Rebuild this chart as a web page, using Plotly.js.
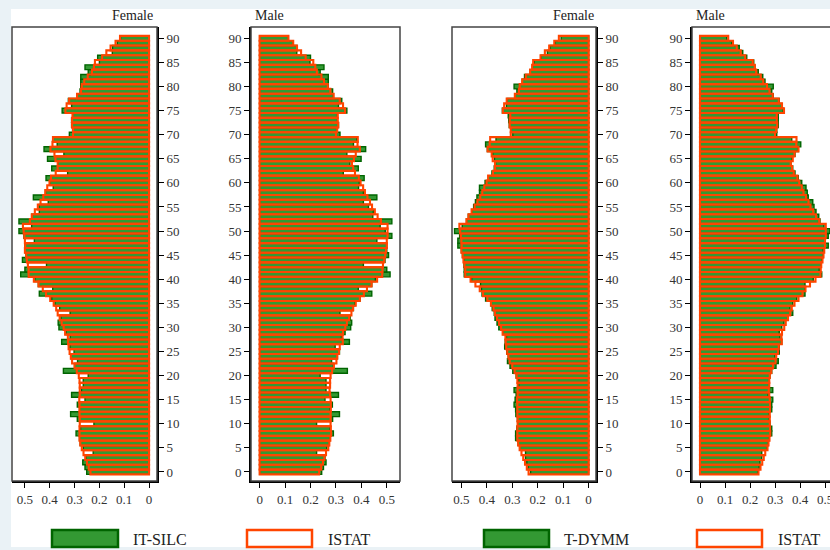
<!DOCTYPE html>
<html>
<head>
<meta charset="utf-8">
<script src="https://cdn.plot.ly/plotly-3.0.1.min.js"></script>
<style>html,body{margin:0;padding:0;background:#eaf2f6;}#chart{width:830px;height:550px;}</style>
</head>
<body>
<div id="chart"></div>
<script>
// Ages 0..90
const ages = Array.from({length: 91}, (_, i) => i);

// ISTAT shares (%), female and male, ages 0..90
const istatF = [0.236,0.243,0.250,0.257,0.264,0.271,0.277,0.280,0.280,0.280,
  0.279,0.279,0.280,0.280,0.280,0.281,0.279,0.279,0.279,0.280,
  0.283,0.291,0.300,0.310,0.315,0.320,0.324,0.326,0.327,0.338,
  0.344,0.352,0.360,0.368,0.374,0.384,0.398,0.415,0.428,0.445,
  0.464,0.485,0.485,0.488,0.492,0.495,0.500,0.499,0.500,0.502,
  0.505,0.508,0.480,0.472,0.460,0.448,0.437,0.426,0.418,0.410,
  0.401,0.395,0.376,0.368,0.368,0.377,0.381,0.397,0.389,0.387,
  0.306,0.306,0.310,0.310,0.308,0.337,0.332,0.322,0.290,0.274,
  0.271,0.261,0.247,0.230,0.222,0.218,0.189,0.172,0.155,0.135,0.117];
const istatM = [0.234,0.242,0.249,0.255,0.261,0.270,0.274,0.278,0.281,0.280,
  0.279,0.279,0.279,0.280,0.280,0.279,0.277,0.275,0.277,0.277,
  0.279,0.285,0.292,0.302,0.305,0.312,0.315,0.327,0.326,0.328,
  0.337,0.343,0.352,0.361,0.367,0.378,0.394,0.410,0.422,0.440,
  0.462,0.482,0.483,0.485,0.490,0.494,0.497,0.500,0.500,0.503,
  0.503,0.503,0.477,0.464,0.453,0.442,0.434,0.424,0.414,0.407,
  0.397,0.390,0.375,0.368,0.363,0.371,0.378,0.394,0.385,0.386,
  0.300,0.305,0.309,0.307,0.307,0.336,0.328,0.315,0.291,0.278,
  0.268,0.253,0.243,0.225,0.219,0.211,0.181,0.163,0.147,0.132,0.113];

// IT-SILC shares, female and male
const silcF = [0.251,0.258,0.267,0.254,0.225,0.265,0.277,0.280,0.294,0.276,
  0.222,0.289,0.316,0.280,0.289,0.258,0.312,0.272,0.265,0.265,
  0.245,0.345,0.300,0.288,0.315,0.302,0.319,0.352,0.318,0.334,
  0.363,0.366,0.355,0.318,0.360,0.379,0.392,0.442,0.388,0.446,
  0.460,0.517,0.500,0.413,0.510,0.496,0.500,0.500,0.462,0.504,
  0.524,0.473,0.524,0.473,0.442,0.443,0.406,0.466,0.417,0.386,
  0.400,0.415,0.328,0.392,0.366,0.409,0.343,0.423,0.370,0.386,
  0.321,0.308,0.312,0.312,0.308,0.350,0.312,0.325,0.290,0.278,
  0.275,0.275,0.275,0.245,0.258,0.200,0.207,0.148,0.147,0.128,0.115];
const silcM = [0.244,0.251,0.261,0.257,0.224,0.264,0.274,0.277,0.290,0.277,
  0.224,0.287,0.314,0.277,0.286,0.257,0.310,0.261,0.261,0.261,
  0.238,0.345,0.290,0.283,0.306,0.314,0.297,0.353,0.322,0.336,
  0.358,0.362,0.356,0.316,0.369,0.375,0.395,0.441,0.388,0.441,
  0.455,0.513,0.500,0.408,0.493,0.507,0.500,0.500,0.461,0.520,
  0.494,0.474,0.520,0.445,0.447,0.428,0.408,0.461,0.408,0.389,
  0.392,0.411,0.329,0.388,0.355,0.399,0.343,0.417,0.369,0.382,
  0.316,0.303,0.310,0.306,0.306,0.343,0.310,0.323,0.290,0.287,
  0.270,0.270,0.270,0.238,0.253,0.198,0.200,0.146,0.146,0.130,0.113];

// T-DYMM shares, female and male
const tdymmF = [0.228,0.238,0.243,0.248,0.248,0.271,0.277,0.287,0.287,0.282,
  0.279,0.280,0.286,0.287,0.293,0.289,0.285,0.293,0.275,0.275,
  0.285,0.298,0.309,0.319,0.316,0.322,0.330,0.328,0.323,0.337,
  0.353,0.360,0.368,0.371,0.379,0.384,0.405,0.419,0.421,0.425,
  0.460,0.489,0.489,0.490,0.490,0.496,0.500,0.514,0.514,0.507,
  0.527,0.497,0.480,0.473,0.459,0.452,0.445,0.439,0.429,0.429,
  0.407,0.394,0.380,0.371,0.366,0.370,0.377,0.398,0.405,0.364,
  0.298,0.305,0.312,0.314,0.316,0.339,0.323,0.320,0.289,0.282,
  0.293,0.261,0.252,0.230,0.221,0.214,0.187,0.162,0.151,0.132,0.108];
const tdymmM = [0.231,0.237,0.240,0.247,0.247,0.269,0.273,0.277,0.287,0.287,
  0.280,0.277,0.277,0.287,0.287,0.291,0.273,0.291,0.277,0.277,
  0.280,0.287,0.304,0.313,0.300,0.317,0.317,0.327,0.320,0.317,
  0.327,0.336,0.353,0.371,0.360,0.371,0.387,0.420,0.420,0.420,
  0.453,0.487,0.477,0.483,0.487,0.493,0.493,0.513,0.500,0.513,
  0.520,0.496,0.480,0.475,0.464,0.456,0.451,0.433,0.429,0.424,
  0.407,0.393,0.380,0.371,0.364,0.367,0.380,0.393,0.403,0.367,
  0.307,0.307,0.313,0.313,0.313,0.333,0.327,0.317,0.293,0.287,
  0.293,0.260,0.251,0.233,0.220,0.215,0.187,0.171,0.157,0.127,0.107];

const xTickVals = [0, 0.1, 0.2, 0.3, 0.4, 0.5];
const xTickText = ['0', '0.1', '0.2', '0.3', '0.4', '0.5'];
const yTickVals = [0,5,10,15,20,25,30,35,40,45,50,55,60,65,70,75,80,85,90];
const panelTitles = ['Female', 'Male', 'Female', 'Male'];
const legendLabels = [['IT-SILC', 'ISTAT'], ['T-DYMM', 'ISTAT']];

const W = 830, H = 550;
const px = x => x / W;
const py = y => (H - y) / H;
const SERIF = '"Liberation Serif", "Times New Roman", Times, serif';
const GREEN = '#339933', DKGREEN = '#006400', ORANGE = '#ff4500';

function green(x, xa, ya) {
  return {type: 'bar', orientation: 'h', y: ages, x: x, xaxis: xa, yaxis: ya, width: 1,
    marker: {color: GREEN, line: {color: DKGREEN, width: 1.4}}, hoverinfo: 'skip', showlegend: false};
}
function outline(x, xa, ya) {
  return {type: 'bar', orientation: 'h', y: ages, x: x, xaxis: xa, yaxis: ya, width: 1,
    marker: {color: 'rgba(255,255,255,0)', line: {color: ORANGE, width: 2.1}}, hoverinfo: 'skip', showlegend: false};
}

const data = [
  green(silcF, 'x', 'y'), outline(istatF, 'x', 'y'),
  green(silcM, 'x2', 'y2'), outline(istatM, 'x2', 'y2'),
  green(tdymmF, 'x3', 'y3'), outline(istatF, 'x3', 'y3'),
  green(tdymmM, 'x4', 'y4'), outline(istatM, 'x4', 'y4')
];

const yDom = [py(481), py(27)];
const yRange = [-1.87, 92.35];
const tickFont = {family: SERIF, size: 13, color: '#333'};

function xax(domain, range, anchor) {
  return {domain: domain, range: range, autorange: false, anchor: anchor,
    tickvals: xTickVals, ticktext: xTickText, ticks: 'outside', ticklen: 5, tickwidth: 1, tickcolor: '#000',
    showline: true, linecolor: '#000', linewidth: 2, showgrid: false, zeroline: false,
    tickfont: tickFont, fixedrange: true, ticklabeloverflow: 'allow'};
}
function yax(anchor, side) {
  return {domain: yDom, range: yRange, autorange: false, anchor: anchor, side: side,
    tickvals: yTickVals, ticks: 'outside', ticklen: 5, tickwidth: 1, tickcolor: '#000',
    showline: true, linecolor: '#000', linewidth: 2, showgrid: false, zeroline: false,
    tickfont: tickFont, fixedrange: true, ticklabeloverflow: 'allow'};
}

const panels = [
  {x0: 12, x1: 157, xa: 'x', ya: 'y'},
  {x0: 251, x1: 400, xa: 'x2', ya: 'y2'},
  {x0: 452, x1: 596, xa: 'x3', ya: 'y3'},
  {x0: 692, x1: 830, xa: 'x4', ya: 'y4'}
];

const shapes = [
  {type: 'rect', xref: 'paper', yref: 'paper', x0: px(11), x1: 1, y0: py(547), y1: py(9),
    fillcolor: '#ffffff', line: {width: 0}, layer: 'below'}
];
panels.forEach((p, i) => {
  shapes.push({type: 'rect', xref: p.xa + ' domain', yref: p.ya + ' domain',
    x0: 0, x1: i === 3 ? 1.3 : 1, y0: 0, y1: 1, line: {color: '#444', width: 1.5}, layer: 'above'});
});

// Legend boxes
const legendBoxes = [
  {x0: 52, x1: 118, kind: 'g', text: legendLabels[0][0], tx: 131},
  {x0: 247, x1: 312, kind: 'o', text: legendLabels[0][1], tx: 326},
  {x0: 484, x1: 549, kind: 'g', text: legendLabels[1][0], tx: 562},
  {x0: 697, x1: 762, kind: 'o', text: legendLabels[1][1], tx: 776}
];
const annotations = [];
legendBoxes.forEach(b => {
  shapes.push({type: 'rect', xref: 'paper', yref: 'paper', x0: px(b.x0), x1: px(b.x1), y0: py(547), y1: py(530),
    fillcolor: b.kind === 'g' ? GREEN : '#ffffff',
    line: {color: b.kind === 'g' ? DKGREEN : ORANGE, width: 2.5}});
  annotations.push({xref: 'paper', yref: 'paper', x: px(b.tx), y: py(539), xanchor: 'left', yanchor: 'middle',
    text: b.text, showarrow: false, font: {family: SERIF, size: 16, color: '#222'}});
});

// Panel titles
const titlePos = [{x: 155, a: 'right'}, {x: 253, a: 'left'}, {x: 596, a: 'right'}, {x: 694, a: 'left'}];
panelTitles.forEach((t, i) => {
  annotations.push({xref: 'paper', yref: 'paper', x: px(titlePos[i].x), y: py(16), xanchor: titlePos[i].a, yanchor: 'middle',
    text: t, showarrow: false, font: {family: SERIF, size: 14, color: '#222'}});
});

const layout = {
  width: W, height: H,
  margin: {l: 0, r: 0, t: 0, b: 0, pad: 0},
  paper_bgcolor: '#eaf2f6', plot_bgcolor: 'rgba(0,0,0,0)',
  barmode: 'overlay', showlegend: false,
  xaxis: xax([px(12), px(157)], [0.552, -0.032], 'y'),
  yaxis: yax('x', 'right'),
  xaxis2: xax([px(251), px(400)], [-0.034, 0.552], 'y2'),
  yaxis2: yax('x2', 'left'),
  xaxis3: xax([px(452), px(596)], [0.537, -0.029], 'y3'),
  yaxis3: yax('x3', 'right'),
  xaxis4: xax([px(692), 1], [-0.032, 0.52], 'y4'),
  yaxis4: yax('x4', 'left'),
  shapes: shapes,
  annotations: annotations
};

Plotly.newPlot('chart', data, layout, {displayModeBar: false, staticPlot: true});
</script>
</body>
</html>
